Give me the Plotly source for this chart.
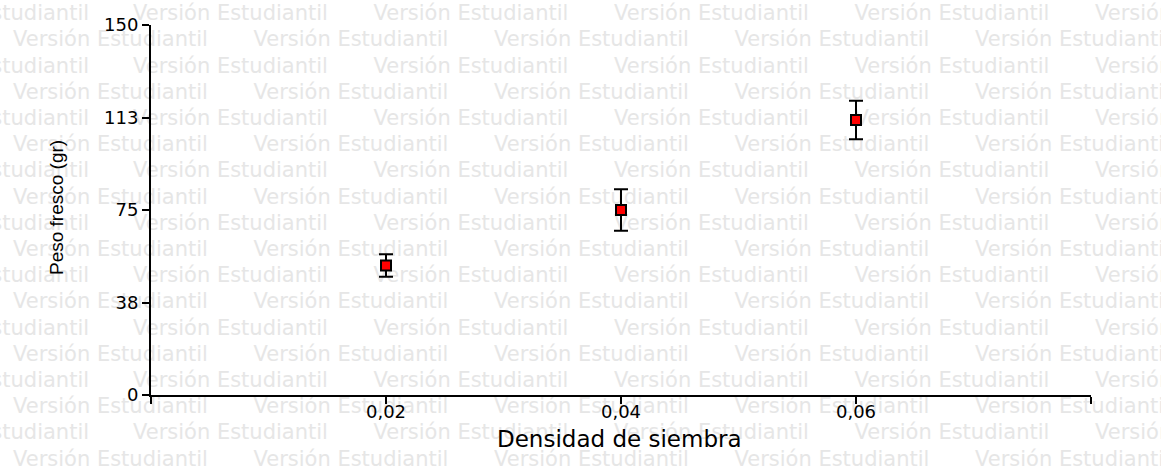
import plotly.graph_objects as go

# ---- data ----
densidad = [0.02, 0.04, 0.06]
peso_fresco = [52.5, 75.0, 111.5]
error_peso = [4.6, 8.4, 7.8]

x_tick_vals = [0, 0.02, 0.04, 0.06, 0.08]
x_tick_labels = ["", "0,02", "0,04", "0,06", ""]
y_tick_vals = [0, 37.5, 75, 112.5, 150]
y_tick_labels = ["0", "38", "75", "113", "150"]

x_title = "Densidad de siembra"
y_title = "Peso fresco (gr)"
watermark = "Versión Estudiantil"

# ---- layout geometry (pixels) ----
W, H = 1161, 474
L, R, T, B = 151, 1091, 25, 395  # plot area edges
WM_SIZE = 21
WM_LEN = 9.36 * WM_SIZE  # approx rendered length of the watermark text

# watermark grid (pixel positions, decorative background)
wm_x, wm_y, wm_pos = [], [], []
for k in range(18):
    yy = 15 + 26.2 * k
    off = 120 if k % 2 == 0 else 0
    for n in range(-1, 5):
        start = 13 + 240.5 * n + off
        end = start + WM_LEN
        if end < 0 or start > W:
            continue
        if start < 0:
            wm_x.append(end)
            wm_pos.append("middle left")
        else:
            wm_x.append(start)
            wm_pos.append("middle right")
        wm_y.append(yy)

fig = go.Figure()

fig.add_trace(go.Scatter(
    x=wm_x, y=wm_y, mode="text", text=[watermark] * len(wm_x),
    textposition=wm_pos,
    textfont=dict(family="DejaVu Sans", size=WM_SIZE, color="#e6e6e6"),
    cliponaxis=False, hoverinfo="skip", showlegend=False,
    xaxis="x", yaxis="y",
))

fig.add_trace(go.Scatter(
    x=densidad, y=peso_fresco, mode="markers",
    marker=dict(symbol="square", size=10, color="#ff0000",
                line=dict(color="black", width=2)),
    error_y=dict(type="data", array=error_peso, visible=True,
                 color="black", thickness=2, width=7),
    cliponaxis=False, showlegend=False,
    xaxis="x2", yaxis="y2",
))

tick_font = dict(family="DejaVu Sans", size=18, color="black")

fig.update_layout(
    width=W, height=H,
    margin=dict(l=0, r=0, t=0, b=0, pad=0, autoexpand=False),
    paper_bgcolor="white", plot_bgcolor="rgba(0,0,0,0)",
    showlegend=False,
    xaxis=dict(range=[0, W], domain=[0, 1], visible=False, fixedrange=True,
               automargin=False),
    yaxis=dict(range=[H, 0], domain=[0, 1], visible=False, fixedrange=True,
               automargin=False),
    xaxis2=dict(
        anchor="y2", domain=[L / W, R / W], range=[0, 0.08],
        tickvals=x_tick_vals, ticktext=x_tick_labels,
        showline=True, linecolor="black", linewidth=2,
        ticks="outside", ticklen=7, tickwidth=2, tickcolor="black",
        ticklabelstandoff=-8,
        showgrid=False, zeroline=False, tickfont=tick_font, automargin=False,
    ),
    yaxis2=dict(
        anchor="x2", domain=[1 - B / H, 1 - T / H], range=[0, 150],
        tickvals=y_tick_vals, ticktext=y_tick_labels,
        showline=True, linecolor="black", linewidth=2,
        ticks="outside", ticklen=7, tickwidth=2, tickcolor="black",
        showgrid=False, zeroline=False, tickfont=tick_font, automargin=False,
    ),
    annotations=[
        dict(text=x_title, xref="paper", yref="paper",
             x=619 / W, y=1 - 439 / H,
             xanchor="center", yanchor="middle", showarrow=False,
             font=dict(family="DejaVu Sans", size=23, color="black")),
        dict(text=y_title, xref="paper", yref="paper",
             x=56 / W, y=1 - 208 / H,
             xanchor="center", yanchor="middle", showarrow=False,
             textangle=-90,
             font=dict(family="Liberation Sans", size=19, color="black")),
    ],
)

fig.write_html("out.html", config={"displayModeBar": False},
               post_script="document.body.style.margin='0';")
